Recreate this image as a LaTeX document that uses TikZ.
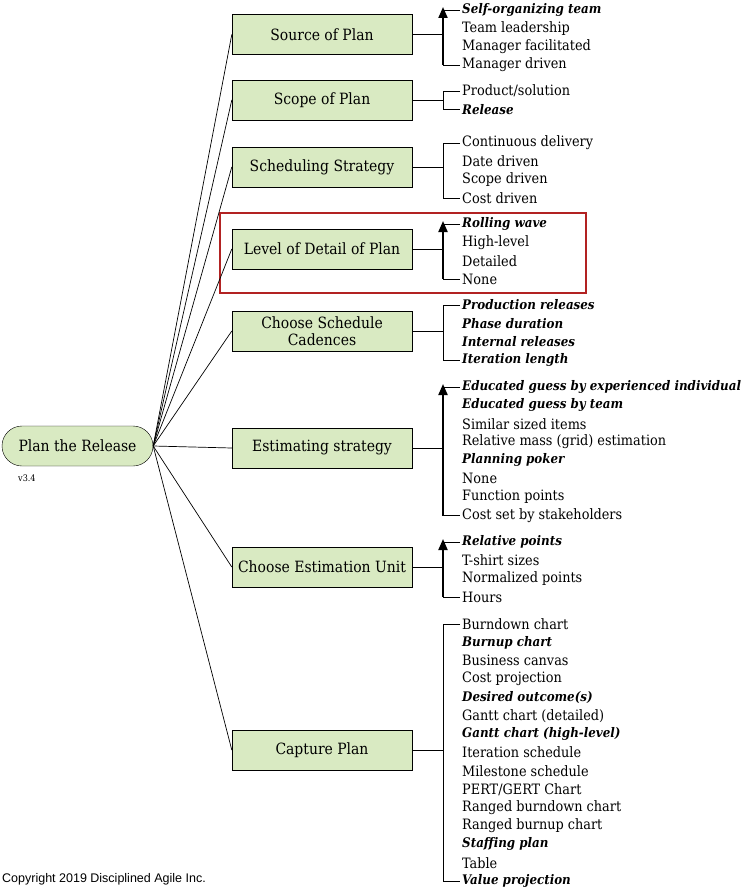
\documentclass[tikz,border=0pt]{standalone}
\usepackage{fontspec}
\setmainfont{DejaVu Serif Condensed}
\newfontfamily\cpy{Liberation Sans}
\usetikzlibrary{arrows.meta}
\definecolor{boxg}{HTML}{D9EAC2}
\definecolor{redb}{HTML}{B22222}
\begin{document}
\begin{tikzpicture}[x=1pt,y=-1pt,
  cat/.style={draw,fill=boxg,minimum width=180pt,minimum height=40pt,align=center,font=\fontsize{15.5}{17}\selectfont,inner sep=1pt},
  w0/.style={anchor=west,font=\fontsize{14.3}{16}\selectfont,inner sep=0pt},
  w1/.style={w0,font=\fontsize{13.2}{16}\selectfont\bfseries\itshape},
  link/.style={draw,line width=0.7pt},
  brk/.style={draw,line width=0.7pt},
  arr/.style={draw,line width=2pt,-{Triangle[length=11pt,width=9pt]}}]
\useasboundingbox (0,0) rectangle (743,891);
\node[draw,fill=boxg,rounded corners=20pt,minimum width=151pt,minimum height=40pt,font=\fontsize{15.5}{17}\selectfont,inner sep=1pt] (root) at (77.5,446) {Plan the Release};
\node[font=\fontsize{9}{10}\selectfont,anchor=west,inner sep=0pt] (ver) at (18,478) {v3.4};
\node[font=\cpy\fontsize{12.5}{14}\selectfont,anchor=west,inner sep=0pt] (cp) at (2,879) {Copyright 2019 Disciplined Agile Inc.};
\draw[redb,line width=1.5pt] (220,213) rectangle (586,293);
\foreach \n/\y/\t in {c1/34.5/Source of Plan, c2/100/Scope of Plan, c3/167/Scheduling Strategy, c4/249/Level of Detail of Plan, c5/331/{Choose Schedule\\Cadences}, c6/448/Estimating strategy, c7/567/Choose Estimation Unit, c8/750/Capture Plan}{
  \node[cat] (\n) at (322,\y) {\t};
  \draw[link] (root.east) -- (\n.west);
}
\def\ys{18.36}
\foreach \i/\t/\bb in {0/Self-organizing team/1,1/Team leadership/0,2/Manager facilitated/0,3/Manager driven/0}{
  \node[w\bb] (s\i) at (462,10+\i*\ys) {\t};}
\foreach \i/\t/\bb in {0/Product\slash solution/0,1/Release/1}{
  \node[w\bb] (p\i) at (462,91+\i*\ys) {\t};}
\foreach \i/\t/\bb in {0/Continuous delivery/0,1/Date driven/0,2/Scope driven/0,3/Cost driven/0}{
  \node[w\bb] (q\i) at (462,143+\i*\ys) {\t};}
\foreach \i/\t/\bb in {0/Rolling wave/1,1/High-level/0,2/Detailed/0,3/None/0}{
  \node[w\bb] (l\i) at (462,224+\i*\ys) {\t};}
\foreach \i/\t/\bb in {0/Production releases/1,1/Phase duration/1,2/Internal releases/1,3/Iteration length/1}{
  \node[w\bb] (h\i) at (462,305+\i*\ys) {\t};}
\foreach \i/\t/\bb in {0/Educated guess by experienced individual/1,1/Educated guess by team/1,2/Similar sized items/0,3/Relative mass (grid) estimation/0,4/Planning poker/1,5/None/0,6/Function points/0,7/Cost set by stakeholders/0}{
  \node[w\bb] (e\i) at (462,387+\i*\ys) {\t};}
\foreach \i/\t/\bb in {0/Relative points/1,1/T-shirt sizes/0,2/Normalized points/0,3/Hours/0}{
  \node[w\bb] (u\i) at (462,542+\i*\ys) {\t};}
\foreach \i/\t/\bb in {0/Burndown chart/0,1/Burnup chart/1,2/Business canvas/0,3/Cost projection/0,4/Desired outcome(s)/1,5/Gantt chart (detailed)/0,6/Gantt chart (high-level)/1,7/Iteration schedule/0,8/Milestone schedule/0,9/PERT\slash GERT Chart/0,10/Ranged burndown chart/0,11/Ranged burnup chart/0,12/Staffing plan/1,13/Table/0,14/Value projection/1}{
  \node[w\bb] (g\i) at (462,624+\i*\ys) {\t};}
\foreach \c/\f/\l/\a in {c1/s0/s3/1,c2/p0/p1/0,c3/q0/q3/0,c4/l0/l3/1,c5/h0/h3/0,c6/e0/e7/1,c7/u0/u3/1,c8/g0/g14/0}{
  \coordinate (\c k) at (443,0 |- \c.east);
  \coordinate (\c f) at (443,0 |- \f.west);
  \coordinate (\c l) at (443,0 |- \l.west);
  \draw[brk] (\c.east) -- (\c k);
  \draw[brk] ([xshift=-2pt]\f.west) -- (\c f) -- (\c l) -- ([xshift=-2pt]\l.west);
  \ifnum\a=1 \draw[arr] (\c l) -- ([yshift=3pt]\c f); \fi
}
\end{tikzpicture}
\end{document}
